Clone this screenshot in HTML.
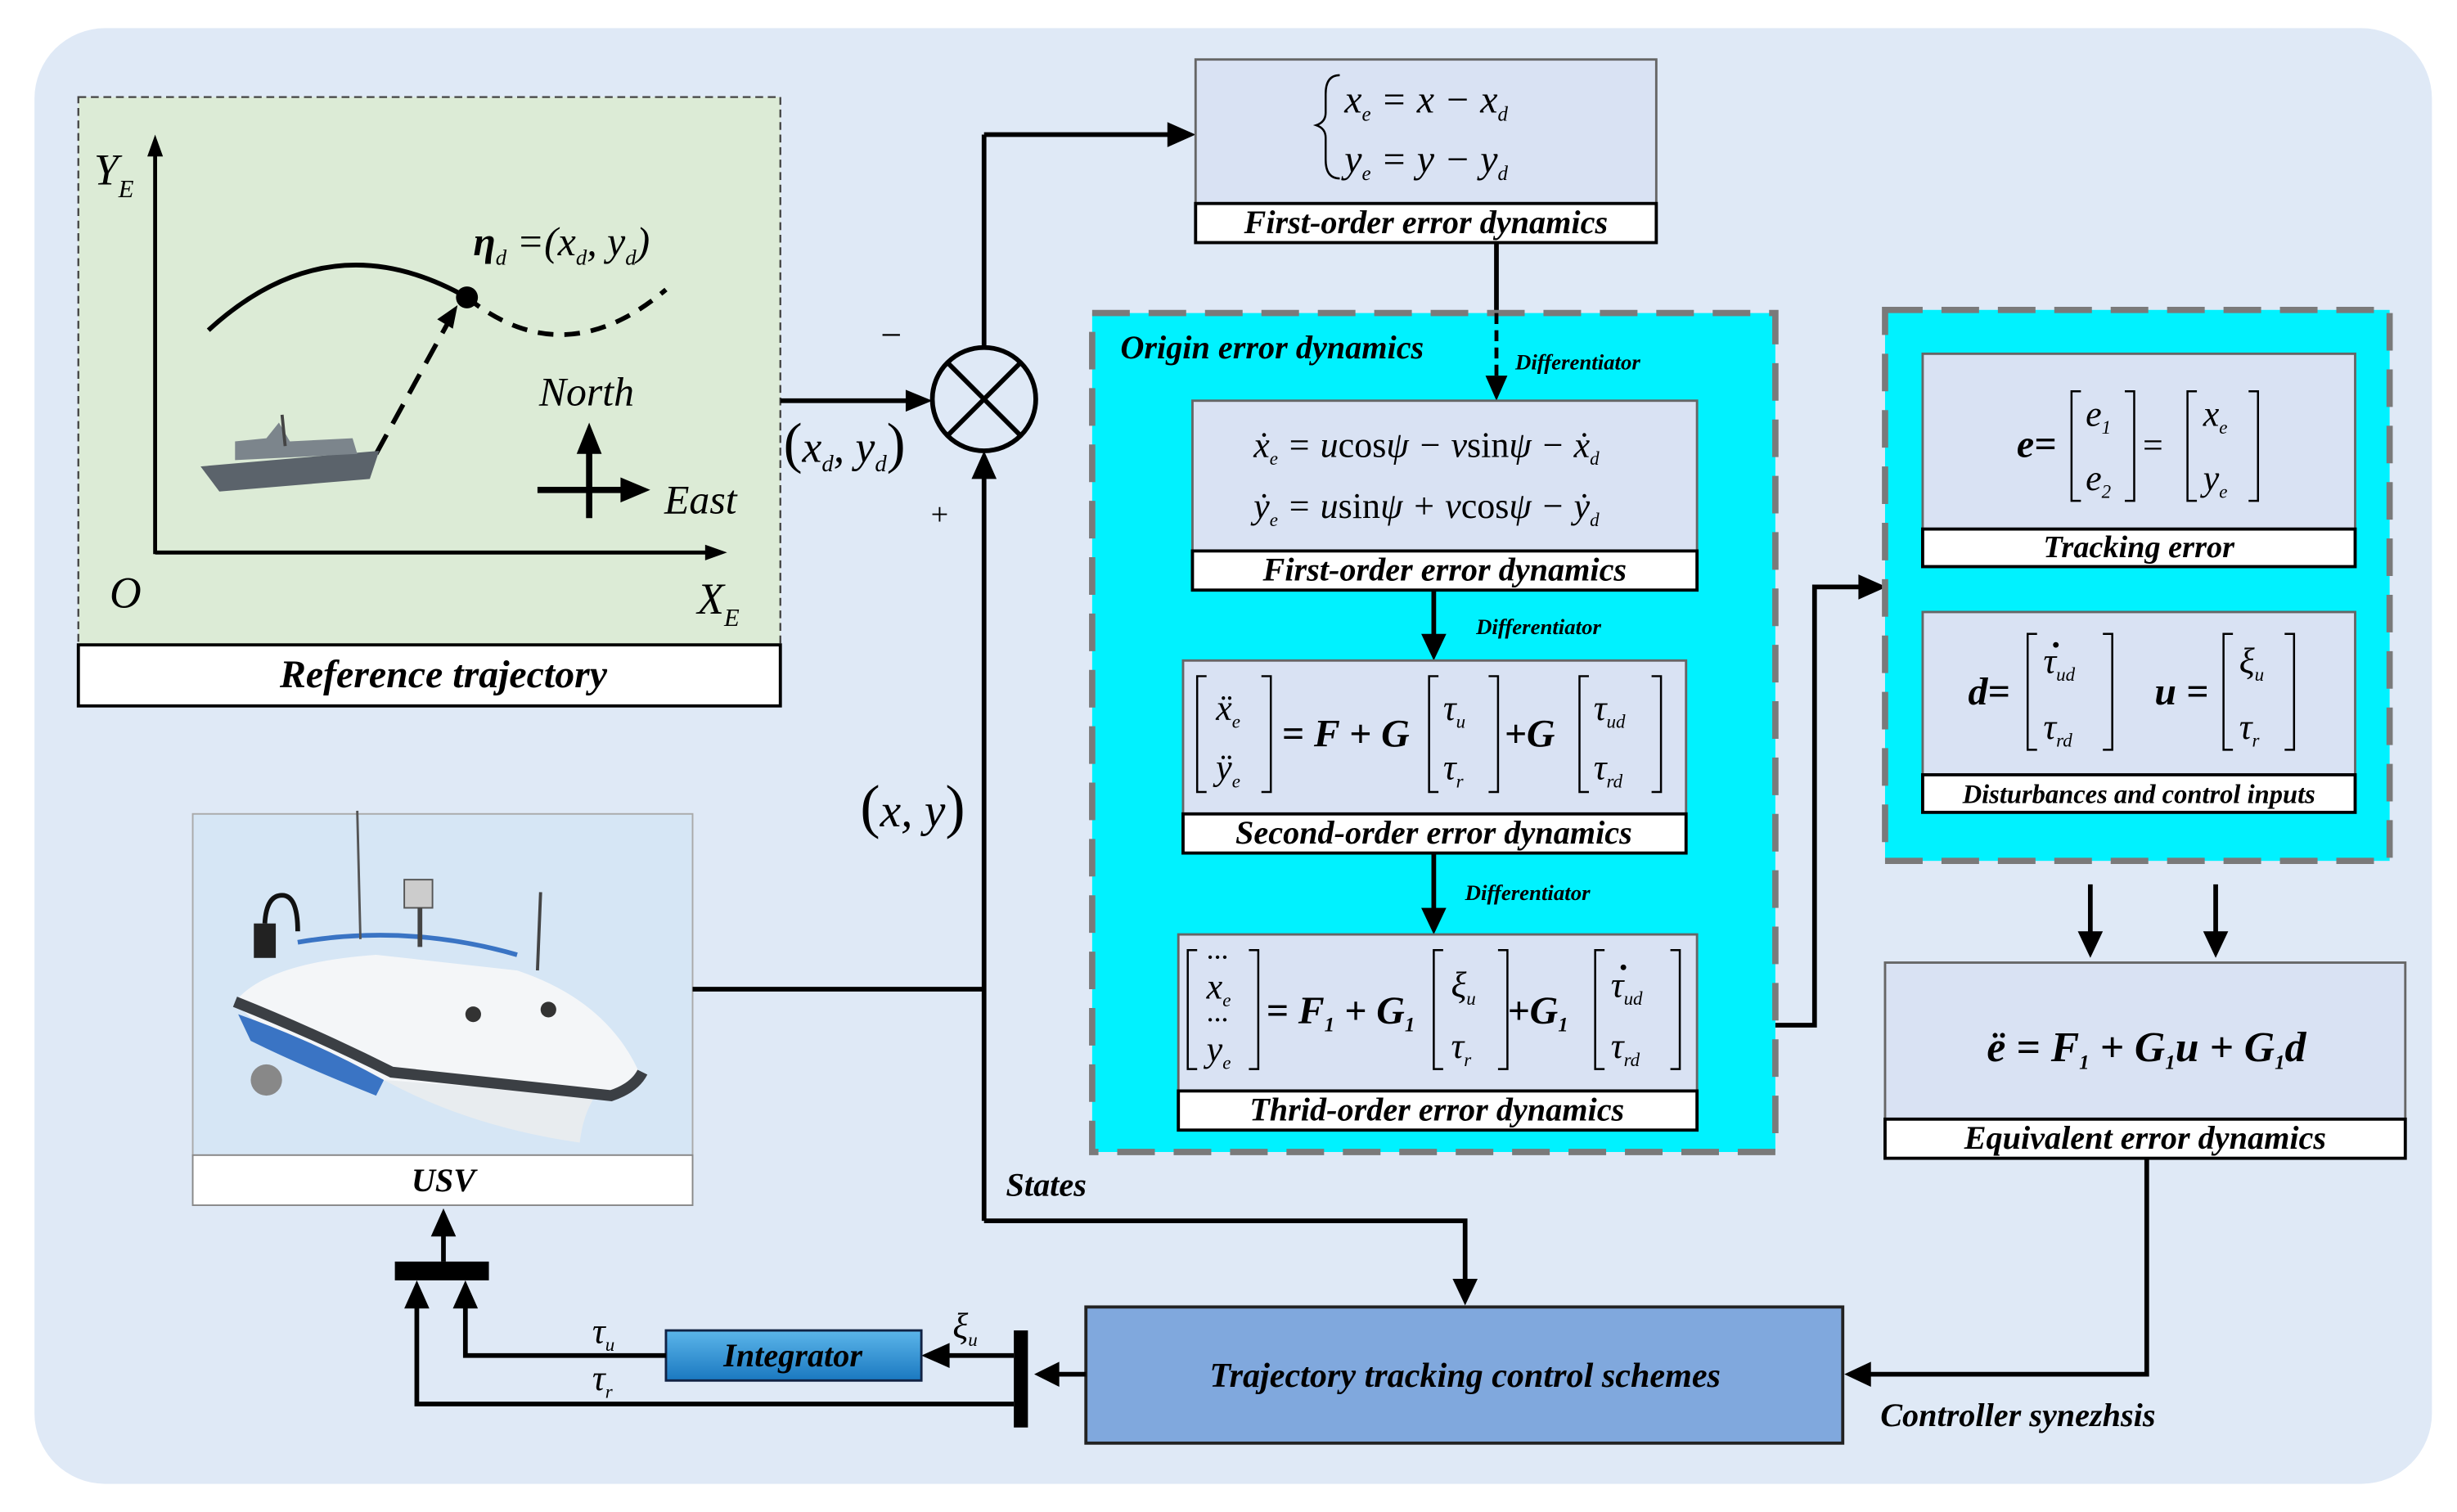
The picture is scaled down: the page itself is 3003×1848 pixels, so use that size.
<!DOCTYPE html>
<html><head><meta charset="utf-8">
<style>
html,body{margin:0;padding:0;background:#fff;}
svg{display:block;}
svg text{font-family:"Liberation Serif","DejaVu Serif",serif !important;}
.lb{font-style:italic;font-weight:bold;font-size:21px;}
.m{font-style:italic;font-size:23px;}
.mb{font-weight:bold;font-style:italic;font-size:25px;}
.sm{font-style:italic;font-weight:bold;font-size:14px;}
</style></head><body>
<svg width="3003" height="1848" viewBox="0 0 1568 966" preserveAspectRatio="none" xmlns="http://www.w3.org/2000/svg" font-family="Liberation Serif, serif">
<defs>
<linearGradient id="ig" x1="0" y1="0" x2="0" y2="1"><stop offset="0" stop-color="#5cb6ea"/><stop offset="1" stop-color="#1a78c0"/></linearGradient>
</defs>
<rect x="0" y="0" width="1568" height="966" fill="#fff"/>
<rect x="22" y="18" width="1530" height="930" rx="45" fill="#dfe9f6"/>

<rect x="50" y="62" width="448" height="350" fill="#dcebd6" stroke="#444" stroke-dasharray="5,3" stroke-width="1.2"/>
<rect x="50" y="412" width="448" height="39" fill="#fff" stroke="#000" stroke-width="2"/>
<text x="283" y="439" text-anchor="middle" class="lb" style="font-size:25px">Reference trajectory</text>
<line x1="99" y1="354" x2="99" y2="96" stroke="#000" stroke-width="2.5"/>
<polygon points="99,86 94,100 104,100" fill="#000"/>
<line x1="99" y1="353" x2="454" y2="353" stroke="#000" stroke-width="2.5"/>
<polygon points="464,353 450,348 450,358" fill="#000"/>
<text x="60" y="118" class="m" style="font-size:28px">Y<tspan style="font-size:16px" dy="8">E</tspan></text>
<text x="70" y="388" class="m" style="font-size:28px">O</text>
<text x="445" y="392" class="m" style="font-size:28px">X<tspan style="font-size:16px" dy="8">E</tspan></text>
<path d="M133,211 Q210,140 298,190" fill="none" stroke="#000" stroke-width="3"/>
<path d="M298,190 Q360,240 425,185" fill="none" stroke="#000" stroke-width="3" stroke-dasharray="10,7"/>
<circle cx="298" cy="190" r="7" fill="#000"/>
<line x1="240" y1="290" x2="286" y2="206" stroke="#000" stroke-width="3" stroke-dasharray="14,8"/>
<polygon points="292,195 279,204 289,210" fill="#000"/>
<text x="302" y="163" class="m" style="font-size:26px"><tspan font-weight="bold">η</tspan><tspan style="font-size:14px" dy="6">d</tspan><tspan dy="-6"> =(x</tspan><tspan style="font-size:14px" dy="6">d</tspan><tspan dy="-6">, y</tspan><tspan style="font-size:14px" dy="6">d</tspan><tspan dy="-6">)</tspan></text>
<path d="M128,298 L242,288 L236,306 L140,314 Z" fill="#5b636b"/>
<path d="M150,294 L150,282 L170,280 L178,270 L185,282 L225,280 L228,290 Z" fill="#7c858c"/>
<line x1="180" y1="265" x2="182" y2="285" stroke="#444" stroke-width="2"/>
<text x="344" y="259" class="m" style="font-size:26px">North</text>
<text x="424" y="328" class="m" style="font-size:26px">East</text>
<line x1="376" y1="331" x2="376" y2="285" stroke="#000" stroke-width="4"/>
<polygon points="376,270 368,290 384,290" fill="#000"/>
<line x1="343" y1="313" x2="400" y2="313" stroke="#000" stroke-width="4"/>
<polygon points="415,313 396,305 396,321" fill="#000"/>

<circle cx="628" cy="255" r="33" fill="none" stroke="#000" stroke-width="3"/>
<line x1="605" y1="232" x2="651" y2="278" stroke="#000" stroke-width="3"/>
<line x1="651" y1="232" x2="605" y2="278" stroke="#000" stroke-width="3"/>
<line x1="498" y1="256" x2="580" y2="256" stroke="#000" stroke-width="3"/>
<polygon points="595,256 578,249 578,263" fill="#000"/>
<text x="562" y="222" font-size="24">−</text>
<text x="594" y="335" font-size="20">+</text>
<text x="500" y="295" class="m" style="font-size:28px"><tspan style="font-size:36px;font-style:normal">(</tspan>x<tspan style="font-size:15px" dy="6">d</tspan><tspan dy="-6">, y</tspan><tspan style="font-size:15px" dy="6">d</tspan><tspan dy="-6" style="font-size:36px;font-style:normal">)</tspan></text>
<line x1="628" y1="222" x2="628" y2="86" stroke="#000" stroke-width="3"/>
<line x1="628" y1="86" x2="748" y2="86" stroke="#000" stroke-width="3"/>
<polygon points="763,86 745,78 745,94" fill="#000"/>

<rect x="763" y="38" width="294" height="92" fill="#d9e2f3" stroke="#666" stroke-width="1.5"/>
<rect x="763" y="130" width="294" height="25" fill="#fff" stroke="#000" stroke-width="2"/>
<text x="910" y="149" text-anchor="middle" class="lb">First-order error dynamics</text>
<path d="M855,48 Q846,48 846,60 L846,72 Q846,78 840,80 Q846,82 846,88 L846,102 Q846,114 855,114" fill="none" stroke="#000" stroke-width="1.3"/>
<text x="858" y="72" class="m" style="font-size:25px">x<tspan style="font-size:13px" dy="5">e</tspan><tspan dy="-5"> = x − x</tspan><tspan style="font-size:13px" dy="5">d</tspan></text>
<text x="858" y="110" class="m" style="font-size:25px">y<tspan style="font-size:13px" dy="5">e</tspan><tspan dy="-5"> = y − y</tspan><tspan style="font-size:13px" dy="5">d</tspan></text>
<line x1="955" y1="155" x2="955" y2="200" stroke="#000" stroke-width="3"/>

<rect x="697" y="200" width="436" height="536" fill="#00f2ff"/>
<rect x="697" y="200" width="436" height="536" fill="none" stroke="#7a7a7a" stroke-width="4" stroke-dasharray="24,12"/>
<text x="715" y="229" class="lb">Origin error dynamics</text>
<line x1="955" y1="200" x2="955" y2="240" stroke="#000" stroke-width="2.5" stroke-dasharray="7,4"/>
<polygon points="955,256 948,240 962,240" fill="#000"/>
<text x="967" y="236" class="sm">Differentiator</text>

<rect x="761" y="256" width="322" height="96" fill="#d9e2f3" stroke="#666" stroke-width="1.5"/>
<rect x="761" y="352" width="322" height="25" fill="#fff" stroke="#000" stroke-width="2"/>
<text x="922" y="371" text-anchor="middle" class="lb">First-order error dynamics</text>
<text x="800" y="292" class="m">ẋ<tspan style="font-size:12px" dy="5">e</tspan><tspan dy="-5"> = u</tspan><tspan style="font-style:normal">cos</tspan>ψ − v<tspan style="font-style:normal">sin</tspan>ψ − ẋ<tspan style="font-size:12px" dy="5">d</tspan></text>
<text x="800" y="331" class="m">ẏ<tspan style="font-size:12px" dy="5">e</tspan><tspan dy="-5"> = u</tspan><tspan style="font-style:normal">sin</tspan>ψ + v<tspan style="font-style:normal">cos</tspan>ψ − ẏ<tspan style="font-size:12px" dy="5">d</tspan></text>

<line x1="915" y1="377" x2="915" y2="408" stroke="#000" stroke-width="3"/>
<polygon points="915,422 907,405 923,405" fill="#000"/>
<text x="942" y="405" class="sm">Differentiator</text>

<rect x="755" y="422" width="321" height="98" fill="#d9e2f3" stroke="#666" stroke-width="1.5"/>
<rect x="755" y="520" width="321" height="25" fill="#fff" stroke="#000" stroke-width="2"/>
<text x="915" y="539" text-anchor="middle" class="lb">Second-order error dynamics</text>
<g fill="none" stroke="#000" stroke-width="1.3">
<path d="M770,432 h-6 v74 h6"/><path d="M805,432 h6 v74 h-6"/>
<path d="M918,432 h-6 v74 h6"/><path d="M950,432 h6 v74 h-6"/>
<path d="M1014,432 h-6 v74 h6"/><path d="M1054,432 h6 v74 h-6"/>
</g>
<text x="776" y="460" class="m">ẍ<tspan style="font-size:12px" dy="5">e</tspan></text>
<text x="776" y="498" class="m">ÿ<tspan style="font-size:12px" dy="5">e</tspan></text>
<text x="818" y="477" class="mb">= F + G</text>
<text x="921" y="460" class="m">τ<tspan style="font-size:12px" dy="5">u</tspan></text>
<text x="921" y="498" class="m">τ<tspan style="font-size:12px" dy="5">r</tspan></text>
<text x="960" y="477" class="mb">+G</text>
<text x="1017" y="460" class="m">τ<tspan style="font-size:12px" dy="5">ud</tspan></text>
<text x="1017" y="498" class="m">τ<tspan style="font-size:12px" dy="5">rd</tspan></text>

<line x1="915" y1="545" x2="915" y2="583" stroke="#000" stroke-width="3"/>
<polygon points="915,597 907,580 923,580" fill="#000"/>
<text x="935" y="575" class="sm">Differentiator</text>

<rect x="752" y="597" width="331" height="100" fill="#d9e2f3" stroke="#666" stroke-width="1.5"/>
<rect x="752" y="697" width="331" height="25" fill="#fff" stroke="#000" stroke-width="2"/>
<text x="917" y="716" text-anchor="middle" class="lb">Thrid-order error dynamics</text>
<g fill="none" stroke="#000" stroke-width="1.3">
<path d="M764,607 h-6 v76 h6"/><path d="M797,607 h6 v76 h-6"/>
<path d="M921,607 h-6 v76 h6"/><path d="M956,607 h6 v76 h-6"/>
<path d="M1024,607 h-6 v76 h6"/><path d="M1066,607 h6 v76 h-6"/>
</g>
<text x="770" y="616" font-size="14" font-weight="bold">···</text>
<text x="770" y="638" class="m">x<tspan style="font-size:12px" dy="5">e</tspan></text>
<text x="770" y="656" font-size="14" font-weight="bold">···</text>
<text x="770" y="678" class="m">y<tspan style="font-size:12px" dy="5">e</tspan></text>
<text x="808" y="654" class="mb">= F<tspan style="font-size:13px" dy="5">1</tspan><tspan dy="-5"> + G</tspan><tspan style="font-size:13px" dy="5">1</tspan></text>
<text x="926" y="637" class="m">ξ<tspan style="font-size:12px" dy="5">u</tspan></text>
<text x="926" y="676" class="m">τ<tspan style="font-size:12px" dy="5">r</tspan></text>
<text x="962" y="654" class="mb">+G<tspan style="font-size:13px" dy="5">1</tspan></text>
<circle cx="1036" cy="618" r="1.8" fill="#000"/>
<text x="1028" y="637" class="m">τ<tspan style="font-size:12px" dy="5">ud</tspan></text>
<text x="1028" y="676" class="m">τ<tspan style="font-size:12px" dy="5">rd</tspan></text>

<polyline points="1133,655 1158,655 1158,375 1190,375" fill="none" stroke="#000" stroke-width="3"/>
<polygon points="1204,375 1186,367 1186,383" fill="#000"/>

<rect x="1203" y="198" width="322" height="352" fill="#00f2ff"/>
<rect x="1203" y="198" width="322" height="352" fill="none" stroke="#7a7a7a" stroke-width="4" stroke-dasharray="24,12"/>
<rect x="1227" y="226" width="276" height="112" fill="#d9e2f3" stroke="#666" stroke-width="1.5"/>
<rect x="1227" y="338" width="276" height="24" fill="#fff" stroke="#000" stroke-width="2"/>
<text x="1365" y="356" text-anchor="middle" class="lb" style="font-size:20px">Tracking error</text>
<g fill="none" stroke="#000" stroke-width="1.3">
<path d="M1328,250 h-6 v70 h6"/><path d="M1356,250 h6 v70 h-6"/>
<path d="M1402,250 h-6 v70 h6"/><path d="M1435,250 h6 v70 h-6"/>
</g>
<text x="1287" y="292" class="mb">e=</text>
<text x="1331" y="272" class="m">e<tspan style="font-size:12px" dy="5">1</tspan></text>
<text x="1331" y="313" class="m">e<tspan style="font-size:12px" dy="5">2</tspan></text>
<text x="1366" y="292" class="m">=</text>
<text x="1406" y="272" class="m">x<tspan style="font-size:12px" dy="5">e</tspan></text>
<text x="1406" y="313" class="m">y<tspan style="font-size:12px" dy="5">e</tspan></text>

<rect x="1227" y="391" width="276" height="104" fill="#d9e2f3" stroke="#666" stroke-width="1.5"/>
<rect x="1227" y="495" width="276" height="24" fill="#fff" stroke="#000" stroke-width="2"/>
<text x="1365" y="513" text-anchor="middle" class="lb" style="font-size:17px">Disturbances and control inputs</text>
<g fill="none" stroke="#000" stroke-width="1.3">
<path d="M1300,405 h-6 v74 h6"/><path d="M1342,405 h6 v74 h-6"/>
<path d="M1425,405 h-6 v74 h6"/><path d="M1458,405 h6 v74 h-6"/>
</g>
<text x="1256" y="450" class="mb">d=</text>
<circle cx="1312" cy="412" r="1.8" fill="#000"/>
<text x="1304" y="430" class="m">τ<tspan style="font-size:12px" dy="5">ud</tspan></text>
<text x="1304" y="472" class="m">τ<tspan style="font-size:12px" dy="5">rd</tspan></text>
<text x="1375" y="450" class="mb">u =</text>
<text x="1429" y="430" class="m">ξ<tspan style="font-size:12px" dy="5">u</tspan></text>
<text x="1429" y="472" class="m">τ<tspan style="font-size:12px" dy="5">r</tspan></text>

<line x1="1334" y1="565" x2="1334" y2="598" stroke="#000" stroke-width="3"/>
<polygon points="1334,612 1326,595 1342,595" fill="#000"/>
<line x1="1414" y1="565" x2="1414" y2="598" stroke="#000" stroke-width="3"/>
<polygon points="1414,612 1406,595 1422,595" fill="#000"/>

<rect x="1203" y="615" width="332" height="100" fill="#d9e2f3" stroke="#666" stroke-width="1.5"/>
<rect x="1203" y="715" width="332" height="25" fill="#fff" stroke="#000" stroke-width="2"/>
<text x="1369" y="734" text-anchor="middle" class="lb">Equivalent error dynamics</text>
<text x="1268" y="678" class="mb" style="font-size:27px">ë = F<tspan style="font-size:13px" dy="5">1</tspan><tspan dy="-5"> + G</tspan><tspan style="font-size:13px" dy="5">1</tspan><tspan dy="-5">u + G</tspan><tspan style="font-size:13px" dy="5">1</tspan><tspan dy="-5">d</tspan></text>

<polyline points="1370,740 1370,878 1192,878" fill="none" stroke="#000" stroke-width="3"/>
<polygon points="1177,878 1194,870 1194,886" fill="#000"/>
<text x="1200" y="911" class="lb">Controller synezhsis</text>

<rect x="693" y="835" width="483" height="87" fill="#80a8dd" stroke="#222" stroke-width="2"/>
<text x="935" y="886" text-anchor="middle" class="lb" style="font-size:22px">Trajectory tracking  control schemes</text>

<rect x="123" y="520" width="319" height="218" fill="#d6e6f5" stroke="#aaa" stroke-width="1"/>
<rect x="123" y="738" width="319" height="32" fill="#fff" stroke="#888" stroke-width="1"/>
<text x="283" y="761" text-anchor="middle" class="lb">USV</text>
<path d="M150,640 Q170,615 240,610 L330,620 Q390,640 410,690 L380,700 L240,690 Q175,670 150,640 Z" fill="#f4f6f8"/>
<path d="M245,690 Q300,720 370,730 Q372,712 380,700 Z" fill="#e8ecef"/>
<path d="M150,640 Q200,660 250,685 L390,700 Q405,695 410,685" fill="none" stroke="#3b3f44" stroke-width="7"/>
<path d="M152,648 Q200,665 245,690 L240,700 Q190,680 160,665 Z" fill="#3a74c4"/>
<path d="M190,602 Q260,590 330,610" fill="none" stroke="#3a74c4" stroke-width="3"/>
<rect x="162" y="590" width="14" height="22" fill="#222"/>
<path d="M169,590 Q170,572 180,572 Q190,572 190,595" fill="none" stroke="#111" stroke-width="3"/>
<rect x="258" y="562" width="18" height="18" fill="#ccc" stroke="#555"/>
<line x1="268" y1="580" x2="268" y2="605" stroke="#444" stroke-width="3"/>
<line x1="228" y1="518" x2="230" y2="600" stroke="#555" stroke-width="1.5"/>
<line x1="345" y1="570" x2="343" y2="620" stroke="#444" stroke-width="2"/>
<circle cx="302" cy="648" r="5" fill="#333"/><circle cx="350" cy="645" r="5" fill="#333"/>
<circle cx="170" cy="690" r="10" fill="#888"/>

<line x1="442" y1="632" x2="628" y2="632" stroke="#000" stroke-width="3"/>
<line x1="628" y1="780" x2="628" y2="305" stroke="#000" stroke-width="3"/>
<polygon points="628,288 620,306 636,306" fill="#000"/>
<text x="549" y="528" class="m" style="font-size:30px"><tspan style="font-size:38px;font-style:normal">(</tspan>x, y<tspan style="font-size:38px;font-style:normal">)</tspan></text>
<text x="642" y="764" class="lb">States</text>
<polyline points="628,780 935,780 935,820" fill="none" stroke="#000" stroke-width="3"/>
<polygon points="935,834 927,817 943,817" fill="#000"/>

<line x1="693" y1="878" x2="674" y2="878" stroke="#000" stroke-width="3"/>
<polygon points="660,878 676,870 676,886" fill="#000"/>
<rect x="647" y="850" width="9" height="62" fill="#000"/>
<line x1="647" y1="866" x2="600" y2="866" stroke="#000" stroke-width="3"/>
<polygon points="588,866 606,858 606,874" fill="#000"/>
<text x="608" y="855" class="m">ξ<tspan style="font-size:12px" dy="5">u</tspan></text>
<rect x="425" y="850" width="163" height="32" fill="url(#ig)" stroke="#124" stroke-width="1.5"/>
<text x="506" y="873" text-anchor="middle" class="lb">Integrator</text>
<polyline points="425,866 297,866 297,834" fill="none" stroke="#000" stroke-width="3"/>
<polygon points="297,818 289,836 305,836" fill="#000"/>
<polyline points="647,897 266,897 266,834" fill="none" stroke="#000" stroke-width="3"/>
<polygon points="266,818 258,836 274,836" fill="#000"/>
<text x="378" y="858" class="m">τ<tspan style="font-size:12px" dy="5">u</tspan></text>
<text x="378" y="888" class="m">τ<tspan style="font-size:12px" dy="5">r</tspan></text>
<rect x="252" y="806" width="60" height="12" fill="#000"/>
<line x1="283" y1="806" x2="283" y2="788" stroke="#000" stroke-width="3"/>
<polygon points="283,772 275,790 291,790" fill="#000"/>
</svg>
</body></html>
